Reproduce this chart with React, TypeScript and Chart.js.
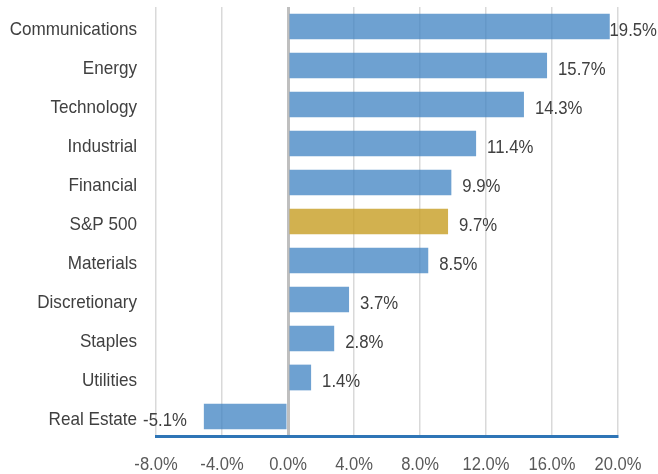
import React, { useEffect, useRef } from "react";
import { Chart, registerables } from "chart.js";

Chart.register(...registerables);

const categories = [
  "Communications",
  "Energy",
  "Technology",
  "Industrial",
  "Financial",
  "S&P 500",
  "Materials",
  "Discretionary",
  "Staples",
  "Utilities",
  "Real Estate",
];
const returns = [19.5, 15.7, 14.3, 11.4, 9.9, 9.7, 8.5, 3.7, 2.8, 1.4, -5.1];
const highlight = "S&P 500";
const xMin = -8;
const xMax = 20;
const xStep = 4;

const FONT = "'Liberation Sans', Arial, sans-serif";
const BLUE = "rgba(62,129,193,0.75)";
const GOLD = "rgba(200,160,40,0.82)";

function drawNarrow(ctx: any, text: string, x: number, y: number, align: string, sx: number) {
  const w = ctx.measureText(text).width * sx;
  let left = x;
  if (align === "right") left = x - w;
  else if (align === "center") left = x - w / 2;
  ctx.save();
  ctx.translate(left, y);
  ctx.scale(sx, 1);
  ctx.textAlign = "left";
  ctx.fillText(text, 0, 0);
  ctx.restore();
  return w;
}

const textPlugin = {
  id: "customText",
  afterDatasetsDraw(chart: any) {
    const ctx = chart.ctx;
    const meta = chart.getDatasetMeta(0);
    const data = chart.data.datasets[0].data as number[];
    const xs = chart.scales.x;
    const ys = chart.scales.y;
    ctx.save();
    ctx.textBaseline = "alphabetic";
    ctx.font = `18px ${FONT}`;

    // data labels
    ctx.fillStyle = "#404040";
    const sxNum = 0.93;
    meta.data.forEach((el: any, i: number) => {
      const v = data[i];
      const text = v.toFixed(1) + "%";
      const w = ctx.measureText(text).width * sxNum;
      if (v >= 0) {
        let x = el.x + 11;
        if (x + w > chart.width - 1) x = chart.width - 1 - w;
        drawNarrow(ctx, text, x, el.y + 9, "left", sxNum);
      } else {
        drawNarrow(ctx, text, el.x - 17, el.y + 9, "right", sxNum);
      }
    });

    // x tick labels
    ctx.fillStyle = "#595959";
    for (let v = xMin; v <= xMax; v += xStep) {
      const x = xs.getPixelForValue(v);
      drawNarrow(ctx, v.toFixed(1) + "%", x, 470, "center", 0.92);
    }

    // category labels
    ctx.font = `19px ${FONT}`;
    ctx.fillStyle = "#404040";
    categories.forEach((c, i) => {
      const y = ys.getPixelForValue(i);
      drawNarrow(ctx, c, 137, y + 8, "right", 0.9);
    });
    ctx.restore();
  },
};

export default function App() {
  const ref = useRef<HTMLCanvasElement | null>(null);
  useEffect(() => {
    if (!ref.current) return;
    const chart = new Chart(ref.current, {
      type: "bar",
      data: {
        labels: categories,
        datasets: [
          {
            data: returns,
            backgroundColor: categories.map((c) => (c === highlight ? GOLD : BLUE)),
            borderWidth: 0,
            barPercentage: 0.66,
            categoryPercentage: 1,
          },
        ],
      },
      options: {
        indexAxis: "y",
        responsive: false,
        animation: false,
        layout: { padding: { top: 7, right: 40, left: 0, bottom: 0 } },
        plugins: {
          legend: { display: false },
          tooltip: { enabled: false },
          title: { display: false },
        },
        scales: {
          x: {
            min: xMin,
            max: xMax,
            ticks: {
              stepSize: xStep,
              display: false,
            },
            grid: {
              drawTicks: false,
              color: (c: any) => (c.tick && c.tick.value === 0 ? "#bfbfbf" : "#d9d9d9"),
              lineWidth: (c: any) => (c.tick && c.tick.value === 0 ? 3 : 1.5),
            },
            border: { display: true, color: "#2e75b6", width: 3 },
            afterFit: (s: any) => {
              s.height = 38;
              s.paddingLeft = 0;
              s.paddingRight = 0;
            },
          },
          y: {
            ticks: { display: false },
            grid: { display: false, drawTicks: false },
            border: { display: false },
            afterFit: (s: any) => {
              s.width = 156;
              s.paddingTop = 0;
              s.paddingBottom = 0;
            },
          },
        },
      },
      plugins: [textPlugin],
    });
    return () => chart.destroy();
  }, []);
  return (
    <div style={{ position: "fixed", left: 0, top: 0, width: 658, height: 474, background: "#fff" }}>
      <canvas ref={ref} width={658} height={474} style={{ width: 658, height: 474 }} />
    </div>
  );
}
